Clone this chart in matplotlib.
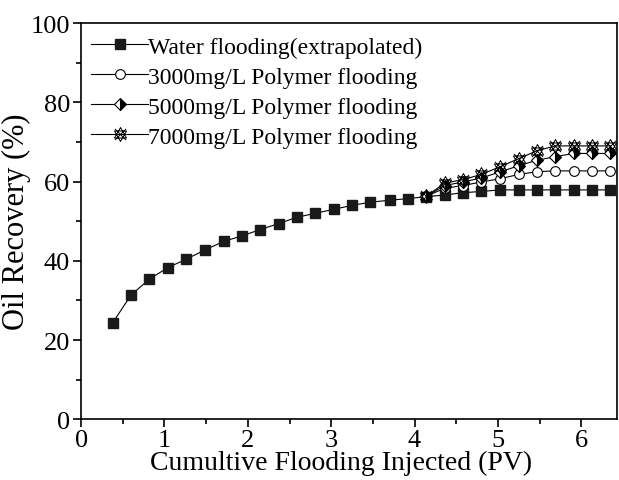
import matplotlib
matplotlib.use("Agg")
import matplotlib.pyplot as plt
from matplotlib.path import Path
from matplotlib.ticker import MultipleLocator

plt.rcParams["font.family"] = ["Liberation Serif", "DejaVu Serif"]
plt.rcParams["mathtext.fontset"] = "stix"

# water flooding, extrapolated to the end of injection
pv_water = [0.38, 0.60, 0.82, 1.04, 1.26, 1.49, 1.71, 1.93, 2.15, 2.37,
            2.59, 2.81, 3.03, 3.25, 3.47, 3.70, 3.92, 4.14, 4.36, 4.58,
            4.80, 5.02, 5.25, 5.47, 5.69, 5.91, 6.13, 6.35]
rec_water = [24.4, 31.4, 35.4, 38.3, 40.4, 42.8, 44.9, 46.3, 47.9, 49.4,
             51.0, 52.0, 53.0, 54.0, 54.8, 55.3, 55.7, 56.2, 56.6, 57.2,
             57.5, 57.9, 57.9, 57.9, 57.9, 57.9, 57.9, 57.9]

# polymer slugs start at ~4.14 PV
pv_poly = [4.14, 4.36, 4.58, 4.80, 5.02, 5.25, 5.47, 5.69, 5.91, 6.13, 6.35]
rec_3000 = [56.3, 58.3, 59.0, 59.9, 60.7, 61.8, 62.5, 62.7, 62.7, 62.7, 62.7]
rec_5000 = [56.3, 59.0, 59.9, 60.9, 62.4, 64.0, 65.4, 66.3, 67.1, 67.1, 67.1]
rec_7000 = [56.3, 59.6, 60.5, 61.8, 63.7, 65.8, 67.8, 69.0, 69.0, 69.0, 69.0]

labels = ["Water flooding(extrapolated)", "3000mg/L Polymer flooding",
          "5000mg/L Polymer flooding", "7000mg/L Polymer flooding"]

# hexagram with a cross through it
_verts = [(0, 1), (0.87, -0.5), (-0.87, -0.5), (0, 1),
          (0, -1), (0.87, 0.5), (-0.87, 0.5), (0, -1),
          (-0.8, -0.8), (0.8, 0.8), (-0.8, 0.8), (0.8, -0.8)]
_codes = [Path.MOVETO, Path.LINETO, Path.LINETO, Path.LINETO,
          Path.MOVETO, Path.LINETO, Path.LINETO, Path.LINETO,
          Path.MOVETO, Path.LINETO, Path.MOVETO, Path.LINETO]
star_x = Path(_verts, _codes)

fig = plt.figure(figsize=(6.19, 4.81), dpi=100)
ax = fig.add_axes([0.131, 0.126, 0.866, 0.824])

lw = 0.8
ax.plot(pv_water, rec_water, color="black", lw=lw, marker="s", ms=6.5,
        mfc="#1a1a1a", mec="#1a1a1a", label=labels[0], zorder=3)
ax.plot(pv_poly, rec_3000, color="black", lw=lw, marker="o", ms=7,
        mfc="white", mec="black", mew=0.8, label=labels[1], zorder=4)
ax.plot(pv_poly, rec_5000, color="black", lw=lw, marker="D", ms=6.5,
        fillstyle="right", mfc="black", mfcalt="white", mec="black",
        mew=0.8, label=labels[2], zorder=5)
ax.plot(pv_poly, rec_7000, color="black", lw=lw, marker=star_x, ms=10,
        mfc="none", mec="black", mew=0.7, label=labels[3], zorder=6)

ax.set_xlim(0, 6.43)
ax.set_ylim(0, 100)
ax.xaxis.set_major_locator(MultipleLocator(1))
ax.xaxis.set_minor_locator(MultipleLocator(0.5))
ax.yaxis.set_major_locator(MultipleLocator(20))
ax.yaxis.set_minor_locator(MultipleLocator(10))
ax.tick_params(which="both", direction="out", top=False, right=False,
               labelsize=19, width=1.2)
ax.tick_params(which="major", length=6)
ax.tick_params(which="minor", length=3.5)
ax.tick_params(axis="x", pad=1)
ax.tick_params(axis="y", pad=2)
for sp in ax.spines.values():
    sp.set_linewidth(1.2)

ax.set_xlabel("Cumultive Flooding Injected (PV)", fontsize=20)
ax.xaxis.set_label_coords(0.485, -0.078, transform=ax.transAxes)
ax.xaxis.label.set_verticalalignment("top")
ax.set_ylabel("Oil Recovery (%)", fontsize=22)
ax.yaxis.set_label_coords(-0.12, 0.5, transform=ax.transAxes)
ax.yaxis.label.set_verticalalignment("center")

ax.legend(loc="upper left", bbox_to_anchor=(-0.005, 1.0), frameon=False,
          fontsize=17, handlelength=2.4, handletextpad=0.0,
          labelspacing=0.36, borderaxespad=0.35, borderpad=0.2)

fig.savefig("out.png", dpi=100)
